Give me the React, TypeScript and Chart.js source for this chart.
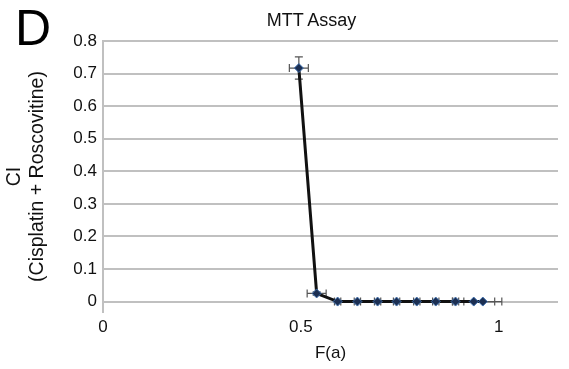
import React, { useEffect, useRef } from "react";
import { Chart, registerables } from "chart.js";

Chart.register(...registerables);

const fa = [0.495, 0.54, 0.593, 0.643, 0.694, 0.742, 0.793, 0.841, 0.891, 0.937, 0.96];
const ci = [0.717, 0.025, 0, 0, 0, 0, 0, 0, 0, 0, 0];
const faErr = [0.024, 0.024, 0.008, 0.008, 0.008, 0.008, 0.008, 0.008, 0.008, 0.053, 0.048];
const ciErr = [0.034, 0.005, 0, 0, 0, 0, 0, 0, 0, 0, 0];
const xTicks = [0, 0.5, 1];
const yTicks = [0, 0.1, 0.2, 0.3, 0.4, 0.5, 0.6, 0.7, 0.8];

const FONT = "'Liberation Sans', Arial, sans-serif";

const errorBars = {
  id: "errorBars",
  beforeDatasetsDraw(chart: any) {
    const { ctx, scales } = chart;
    const xs = scales.x;
    const ys = scales.y;
    ctx.save();
    ctx.strokeStyle = "#555";
    ctx.lineWidth = 1.2;
    const cap = 4;
    fa.forEach((x, i) => {
      const px = xs.getPixelForValue(x);
      const py = ys.getPixelForValue(ci[i]);
      if (faErr[i] > 0) {
        const l = xs.getPixelForValue(x - faErr[i]);
        const r = xs.getPixelForValue(x + faErr[i]);
        ctx.beginPath();
        ctx.moveTo(l, py);
        ctx.lineTo(r, py);
        ctx.moveTo(l, py - cap);
        ctx.lineTo(l, py + cap);
        ctx.moveTo(r, py - cap);
        ctx.lineTo(r, py + cap);
        ctx.stroke();
      }
      if (ciErr[i] > 0) {
        const t = ys.getPixelForValue(ci[i] + ciErr[i]);
        const b = ys.getPixelForValue(ci[i] - ciErr[i]);
        ctx.beginPath();
        ctx.moveTo(px, t);
        ctx.lineTo(px, b);
        ctx.moveTo(px - cap, t);
        ctx.lineTo(px + cap, t);
        ctx.moveTo(px - cap, b);
        ctx.lineTo(px + cap, b);
        ctx.stroke();
      }
    });
    ctx.restore();
  },
};

export default function App() {
  const ref = useRef<HTMLCanvasElement>(null);
  useEffect(() => {
    document.body.style.margin = "0";
    const chart = new Chart(ref.current!, {
      type: "scatter",
      data: {
        datasets: [
          {
            data: fa.map((x, i) => ({ x, y: ci[i] })),
            showLine: true,
            borderColor: "#111",
            borderWidth: 3,
            pointStyle: "rectRot",
            pointRadius: 4.5,
            pointBackgroundColor: "#1c2f52",
            pointBorderColor: "#3f6fae",
            pointBorderWidth: 1,
          },
        ],
      },
      options: {
        animation: false,
        responsive: false,
        layout: { padding: { left: 0, right: 11, top: 41, bottom: 0 } },
        plugins: {
          legend: { display: false },
          tooltip: { enabled: false },
        },
        scales: {
          x: {
            type: "linear",
            min: 0,
            max: 1.15,
            afterBuildTicks: (s: any) => {
              s.ticks = xTicks.map((v) => ({ value: v }));
            },
            afterFit: (s: any) => {
              s.height = 57;
            },
            grid: { display: false, drawTicks: false },
            border: { display: false },
            ticks: {
              color: "#111",
              font: { family: FONT, size: 17 },
              padding: 5,
              callback: (v: any) => String(v),
            },
            title: {
              display: true,
              text: "F(a)",
              color: "#111",
              font: { family: FONT, size: 17, lineHeight: 1.2 },
              padding: { top: 0, bottom: 5 },
            },
          },
          y: {
            type: "linear",
            min: -0.032,
            max: 0.8,
            afterBuildTicks: (s: any) => {
              s.ticks = yTicks.map((v) => ({ value: v }));
            },
            afterFit: (s: any) => {
              s.width = 103;
            },
            grid: { color: "#c0c0c0", lineWidth: 2, drawTicks: false },
            border: { display: true, color: "#c0c0c0", width: 2 },
            ticks: {
              color: "#111",
              font: { family: FONT, size: 17 },
              padding: 6,
              callback: (v: any) => (v === 0 ? "0" : Number(v).toFixed(1)),
            },
            title: {
              display: true,
              text: ["CI", "(Cisplatin + Roscovitine)"],
              color: "#111",
              font: { family: FONT, size: 19.5, lineHeight: 1.2 },
              padding: { top: 3, bottom: 0 },
            },
          },
        },
      },
      plugins: [errorBars],
    });
    return () => chart.destroy();
  }, []);
  return (
    <div style={{ position: "relative", width: 569, height: 369 }}>
      <canvas ref={ref} width={569} height={369} />
      <div
        style={{
          position: "absolute",
          left: 15,
          top: 3,
          fontFamily: FONT,
          fontSize: 50,
          lineHeight: "50px",
          color: "#000",
        }}
      >
        D
      </div>
      <div
        style={{
          position: "absolute",
          left: 0,
          width: 623,
          top: 11,
          textAlign: "center",
          fontFamily: FONT,
          fontSize: 18,
          lineHeight: "18px",
          color: "#111",
        }}
      >
        MTT Assay
      </div>
    </div>
  );
}
